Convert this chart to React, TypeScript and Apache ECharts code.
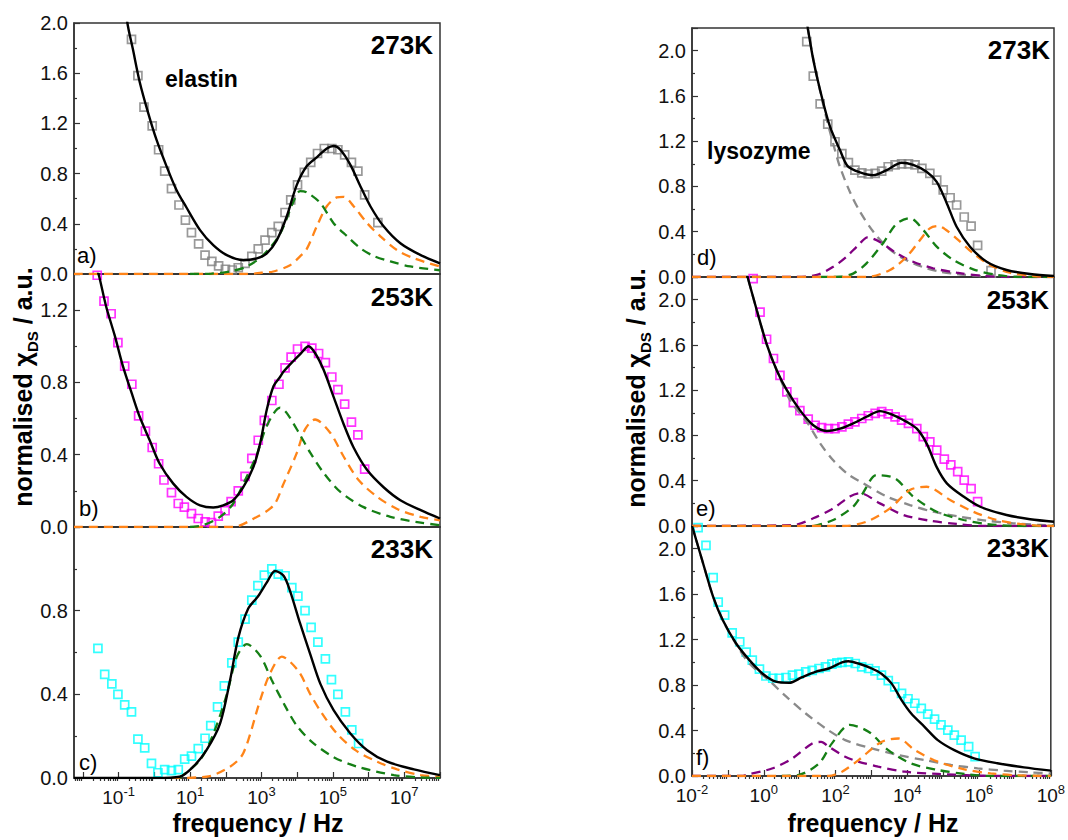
import React, { useEffect, useRef } from 'react';
import * as echarts from 'echarts';

// ---------- DATA (x = log10(frequency / Hz), y = normalised chi_DS) ----------
// elastin 273K (a)
const elastin273Data = [[-0.64,1.87],[-0.46,1.58],[-0.29,1.33],[-0.06,1.18],[0.12,0.99],[0.29,0.82],[0.48,0.68],[0.69,0.55],[0.87,0.43],[1.04,0.33],[1.24,0.24],[1.42,0.15],[1.61,0.10],[1.80,0.064],[1.99,0.038],[2.18,0.032],[2.35,0.05],[2.54,0.085],[2.73,0.14],[2.91,0.20],[3.10,0.27],[3.29,0.33],[3.47,0.38],[3.66,0.49],[3.82,0.59],[4.01,0.71],[4.20,0.81],[4.38,0.89],[4.57,0.96],[4.76,1.0],[4.97,1.0],[5.14,0.99],[5.33,0.95],[5.52,0.89],[5.70,0.82],[5.89,0.63],[6.26,0.41]];
const elastin273Fit = [[-0.85,2.3],[-0.76,2.01],[-0.60,1.79],[-0.41,1.53],[-0.18,1.29],[0.06,1.07],[0.34,0.86],[0.62,0.67],[0.90,0.53],[1.28,0.35],[1.65,0.23],[2.03,0.15],[2.49,0.11],[2.87,0.125],[3.15,0.165],[3.43,0.27],[3.71,0.46],[3.99,0.71],[4.27,0.86],[4.55,0.93],[4.83,1.0],[5.02,1.02],[5.21,0.99],[5.49,0.87],[5.77,0.70],[6.05,0.54],[6.42,0.38],[6.89,0.245],[7.46,0.15],[8.0,0.085]];
const elastin273Green = [[1.0,0],[1.6,0.003],[2.12,0.02],[2.59,0.06],[3.05,0.15],[3.52,0.32],[3.90,0.58],[4.08,0.66],[4.27,0.65],[4.65,0.565],[5.02,0.405],[5.40,0.30],[5.77,0.205],[6.14,0.144],[6.61,0.10],[7.17,0.06],[8.0,0.03]];
const elastin273Orange = [[-2.25,0],[2.6,0],[3.0,0.01],[3.33,0.02],[3.80,0.07],[4.08,0.14],[4.27,0.2],[4.55,0.38],[4.83,0.54],[5.11,0.61],[5.30,0.615],[5.58,0.54],[5.96,0.405],[6.33,0.30],[6.80,0.19],[7.27,0.125],[8.0,0.06]];

// elastin 253K (b)
const elastin253Data = [[-1.60,1.393],[-1.41,1.25],[-1.21,1.18],[-1.02,1.02],[-0.83,0.89],[-0.63,0.79],[-0.44,0.615],[-0.25,0.53],[-0.06,0.44],[0.12,0.35],[0.27,0.26],[0.48,0.19],[0.67,0.13],[0.84,0.11],[1.04,0.074],[1.23,0.047],[1.42,0.028],[1.60,0.024],[1.79,0.06],[1.98,0.09],[2.15,0.14],[2.35,0.20],[2.54,0.28],[2.73,0.38],[2.91,0.48],[3.08,0.59],[3.29,0.70],[3.49,0.79],[3.66,0.88],[3.83,0.94],[4.01,0.985],[4.22,1.0],[4.41,0.99],[4.60,0.96],[4.79,0.91],[4.97,0.83],[5.14,0.76],[5.33,0.68],[5.52,0.58],[5.70,0.51],[5.89,0.32]];
const elastin253Fit = [[-1.65,1.45],[-1.55,1.39],[-1.35,1.22],[-1.11,1.06],[-0.88,0.89],[-0.60,0.72],[-0.41,0.61],[-0.13,0.48],[0.15,0.35],[0.53,0.24],[0.90,0.167],[1.28,0.12],[1.65,0.108],[1.93,0.12],[2.21,0.148],[2.49,0.22],[2.77,0.33],[2.96,0.46],[3.15,0.65],[3.34,0.78],[3.52,0.83],[3.62,0.86],[3.90,0.92],[4.10,0.96],[4.32,1.0],[4.51,0.96],[4.74,0.87],[5.02,0.72],[5.30,0.57],[5.58,0.44],[5.96,0.315],[6.42,0.22],[6.89,0.148],[7.46,0.093],[8.0,0.047]];
const elastin253Green = [[1.0,0],[1.37,0.01],[1.84,0.056],[2.21,0.13],[2.59,0.28],[2.87,0.40],[3.15,0.56],[3.52,0.66],[3.71,0.63],[4.08,0.51],[4.37,0.41],[4.74,0.30],[5.21,0.194],[5.86,0.11],[6.61,0.056],[7.46,0.024],[8.0,0.01]];
const elastin253Orange = [[-2.25,0],[2.2,0],[2.77,0.045],[3.34,0.12],[3.62,0.24],[3.99,0.41],[4.22,0.54],[4.50,0.595],[4.93,0.52],[5.30,0.39],[5.72,0.26],[6.24,0.167],[6.80,0.10],[7.46,0.056],[8.0,0.037]];

// elastin 233K (c)
const elastin233Data = [[-1.58,0.62],[-1.39,0.495],[-1.19,0.45],[-1.02,0.40],[-0.83,0.35],[-0.64,0.316],[-0.46,0.186],[-0.27,0.144],[-0.08,0.07],[0.10,0.025],[0.29,0.04],[0.48,0.035],[0.67,0.04],[0.85,0.09],[1.04,0.105],[1.23,0.14],[1.42,0.19],[1.58,0.25],[1.77,0.34],[1.96,0.44],[2.17,0.55],[2.35,0.65],[2.54,0.76],[2.73,0.85],[2.90,0.92],[3.08,0.97],[3.29,1.0],[3.47,0.975],[3.66,0.967],[3.85,0.91],[4.02,0.87],[4.22,0.80],[4.39,0.72],[4.58,0.65],[4.79,0.57],[4.96,0.47],[5.14,0.40],[5.35,0.316],[5.53,0.23],[5.72,0.165]];
const elastin233Fit = [[-2.25,0],[0.06,0],[0.71,0.006],[1.09,0.054],[1.46,0.133],[1.84,0.26],[2.12,0.467],[2.35,0.67],[2.63,0.81],[2.91,0.87],[3.15,0.935],[3.38,0.99],[3.62,0.967],[3.80,0.895],[4.08,0.74],[4.37,0.59],[4.65,0.45],[5.02,0.324],[5.49,0.213],[5.96,0.133],[6.52,0.078],[7.27,0.041],[8.0,0.014]];
const elastin233Green = [[0.7,0],[1.28,0.086],[1.65,0.21],[2.03,0.40],[2.31,0.58],[2.59,0.64],[2.96,0.585],[3.29,0.467],[3.66,0.345],[3.99,0.25],[4.41,0.173],[5.02,0.10],[5.68,0.054],[6.71,0.014],[7.46,0.003],[8.0,0]];
const elastin233Orange = [[0.5,0],[1.46,0.006],[2.12,0.054],[2.49,0.118],[2.96,0.37],[3.24,0.50],[3.57,0.58],[4.04,0.51],[4.37,0.40],[4.69,0.31],[5.11,0.213],[5.63,0.133],[6.24,0.078],[6.80,0.041],[7.46,0.014],[8.0,0.006]];

// lysozyme 273K (d)
const lyso273Data = [[1.17,2.08],[1.35,1.775],[1.54,1.53],[1.75,1.35],[1.95,1.195],[2.14,1.09],[2.32,1.01],[2.50,0.945],[2.69,0.92],[2.87,0.91],[3.06,0.915],[3.24,0.936],[3.42,0.974],[3.61,0.99],[3.79,1.0],[3.98,1.0],[4.16,0.99],[4.35,0.96],[4.57,0.915],[4.76,0.856],[4.94,0.77],[5.13,0.70],[5.31,0.636],[5.52,0.53],[5.71,0.45],[5.89,0.28],[6.26,0.056]];
const lyso273Fit = [[1.12,2.35],[1.20,2.196],[1.35,1.92],[1.54,1.65],[1.81,1.33],[2.09,1.12],[2.30,0.98],[2.64,0.925],[3.01,0.90],[3.38,0.945],[3.79,1.01],[4.11,0.99],[4.48,0.93],[4.76,0.84],[5.04,0.65],[5.31,0.444],[5.68,0.268],[6.14,0.135],[6.69,0.062],[7.34,0.026],[8.0,0.009]];
const lyso273Gray = [[1.12,2.35],[1.20,2.19],[1.40,1.85],[1.70,1.42],[1.95,1.12],[2.09,0.97],[2.36,0.753],[2.64,0.577],[3.01,0.40],[3.38,0.268],[3.75,0.179],[4.11,0.121],[4.48,0.077],[4.85,0.047],[5.31,0.026],[5.96,0.009],[6.5,0]];
const lyso273Purple = [[-2,0],[0.8,0],[1.45,0.018],[1.90,0.09],[2.27,0.18],[2.59,0.28],[2.85,0.35],[3.19,0.31],[3.65,0.21],[4.11,0.135],[4.66,0.077],[5.31,0.038],[6.05,0.009],[6.69,0],[8,0]];
const lyso273Green = [[1.5,0],[2.09,0.003],[2.45,0.03],[2.82,0.12],[3.28,0.30],[3.65,0.47],[4.02,0.52],[4.39,0.415],[4.76,0.268],[5.22,0.15],[5.77,0.068],[6.42,0.018],[7.08,0],[8,0]];
const lyso273Orange = [[-2,0],[2.82,0],[3.47,0.062],[3.93,0.179],[4.30,0.327],[4.57,0.43],[4.80,0.45],[5.00,0.42],[5.31,0.34],[5.77,0.209],[6.23,0.106],[6.78,0.038],[7.43,0.009],[8.0,0]];

// lysozyme 253K (e)
const lyso253Data = [[-0.31,2.186],[-0.12,1.89],[0.06,1.65],[0.25,1.48],[0.43,1.33],[0.62,1.185],[0.80,1.09],[0.98,1.02],[1.21,0.944],[1.40,0.89],[1.58,0.87],[1.77,0.86],[1.95,0.86],[2.14,0.876],[2.32,0.90],[2.50,0.92],[2.69,0.95],[2.87,0.974],[3.06,0.995],[3.24,1.01],[3.42,0.99],[3.61,0.965],[3.79,0.936],[3.98,0.906],[4.21,0.86],[4.39,0.79],[4.57,0.744],[4.76,0.67],[4.97,0.59],[5.15,0.54],[5.34,0.48],[5.52,0.406],[5.71,0.33],[5.89,0.215]];
const lyso253Fit = [[-0.55,2.3],[-0.49,2.23],[-0.21,1.906],[0.06,1.61],[0.34,1.377],[0.62,1.20],[0.98,1.024],[1.35,0.89],[1.72,0.84],[2.09,0.86],[2.45,0.906],[2.82,0.965],[3.19,1.015],[3.56,0.98],[3.93,0.92],[4.21,0.86],[4.48,0.73],[4.76,0.52],[5.04,0.377],[5.50,0.26],[5.96,0.17],[6.69,0.097],[7.34,0.06],[8.0,0.038]];
const lyso253Gray = [[-0.55,2.3],[-0.49,2.23],[-0.21,1.906],[0.06,1.61],[0.34,1.377],[0.71,1.11],[1.17,0.92],[1.54,0.73],[1.90,0.58],[2.30,0.46],[2.73,0.377],[3.38,0.26],[4.02,0.185],[4.66,0.126],[5.40,0.082],[6.14,0.047],[6.88,0.024],[7.61,0.009],[8.0,0.005]];
const lyso253Purple = [[-2,0],[0.8,0.009],[1.35,0.068],[1.90,0.156],[2.36,0.26],[2.64,0.29],[3.19,0.20],[3.84,0.097],[4.57,0.047],[5.31,0.018],[6.05,0],[8,0]];
const lyso253Green = [[1.35,0],[1.90,0.053],[2.45,0.17],[2.70,0.28],[3.10,0.45],[3.61,0.42],[4.11,0.26],[4.76,0.126],[5.50,0.053],[6.14,0.018],[7.0,0],[8,0]];
const lyso253Orange = [[-2,0],[2.2,0],[2.82,0.038],[3.47,0.156],[4.02,0.318],[4.48,0.347],[5.13,0.23],[5.77,0.126],[6.42,0.053],[7.06,0.018],[7.80,0],[8,0]];

// lysozyme 233K (f)
const lyso233Data = [[-1.83,2.185],[-1.61,2.03],[-1.41,1.746],[-1.27,1.53],[-1.09,1.415],[-0.88,1.26],[-0.67,1.18],[-0.49,1.09],[-0.32,1.02],[-0.12,0.94],[0.06,0.88],[0.25,0.86],[0.43,0.86],[0.62,0.867],[0.80,0.887],[0.98,0.896],[1.17,0.917],[1.35,0.93],[1.54,0.946],[1.72,0.96],[1.90,0.984],[2.04,0.995],[2.18,1.0],[2.36,1.004],[2.55,0.99],[2.73,0.96],[2.92,0.946],[3.10,0.925],[3.28,0.887],[3.47,0.84],[3.65,0.785],[3.84,0.727],[4.02,0.68],[4.21,0.64],[4.39,0.595],[4.57,0.545],[4.76,0.50],[4.94,0.45],[5.13,0.404],[5.31,0.36],[5.50,0.316],[5.71,0.258],[5.89,0.17]];
const lyso233Fit = [[-2,2.2],[-1.96,2.16],[-1.69,1.87],[-1.41,1.576],[-1.14,1.37],[-0.77,1.166],[-0.40,1.02],[-0.03,0.90],[0.34,0.83],[0.71,0.82],[1.07,0.87],[1.44,0.917],[1.81,0.946],[2.18,1.0],[2.36,1.01],[2.64,0.99],[3.01,0.946],[3.28,0.90],[3.56,0.815],[3.84,0.668],[4.11,0.55],[4.48,0.433],[4.85,0.316],[5.31,0.228],[5.86,0.156],[6.51,0.112],[7.25,0.076],[8.0,0.047]];
const lyso233Gray = [[-2,2.2],[-1.96,2.16],[-1.69,1.87],[-1.41,1.576],[-1.14,1.37],[-0.77,1.16],[-0.40,0.99],[0.15,0.84],[0.62,0.70],[1.17,0.55],[1.72,0.42],[2.27,0.316],[3.01,0.243],[3.75,0.185],[4.48,0.14],[5.22,0.097],[5.96,0.068],[6.69,0.047],[7.43,0.032],[8.0,0.023]];
const lyso233Purple = [[-2,0],[-0.6,0],[-0.49,0.009],[0.25,0.068],[0.80,0.156],[1.35,0.287],[1.60,0.30],[1.81,0.258],[2.27,0.17],[2.60,0.13],[3.19,0.082],[3.93,0.038],[4.85,0.018],[5.77,0.006],[6.5,0],[8,0]];
const lyso233Green = [[0.5,0],[0.98,0.01],[1.54,0.11],[1.90,0.287],[2.40,0.45],[2.92,0.39],[3.47,0.228],[4.11,0.11],[4.85,0.053],[5.59,0.018],[6.3,0],[8,0]];
const lyso233Orange = [[-2,0],[1.8,0],[2.18,0.038],[2.64,0.14],[3.28,0.30],[3.75,0.33],[4.21,0.228],[4.85,0.126],[5.59,0.059],[6.32,0.023],[7.06,0.006],[8.0,0]];

// ---------- axes / labels ----------
const leftDecades = [-2, -1, 0, 1, 2, 3, 4, 5, 6, 7, 8];
const leftLabelDecades = [-1, 1, 3, 5, 7];
const rightDecades = [-2, -1, 0, 1, 2, 3, 4, 5, 6, 7, 8];
const rightLabelDecades = [-2, 0, 2, 4, 6, 8];
const panelYMax = [2.0, 1.4, 1.2, 2.2, 2.2, 2.2];
const panelLetters = ['a)', 'b)', 'c)', 'd)', 'e)', 'f)'];
const panelTemps = ['273K', '253K', '233K', '273K', '253K', '233K'];

const FONT = "'Liberation Sans', Arial, Helvetica, sans-serif";
const C_GRAY = '#808080';
const C_MAG = '#ff00ff';
const C_CYAN = '#00ffff';
const C_GREEN = '#157f15';
const C_ORANGE = '#ff8418';
const C_PURPLE = '#800080';
const C_GRAYD = '#8a8a8a';

function minorTicks(lo: number, hi: number) {
  const out: number[] = [];
  for (let n = -3; n <= 8; n++) {
    for (let k = 2; k <= 9; k++) {
      const v = Math.log10(k) + n;
      if (v > lo && v < hi) out.push(v);
    }
  }
  return out;
}

function buildOption() {
  const grids = [
    { left: 74, top: 23, width: 366, height: 251 },
    { left: 74, top: 274, width: 366, height: 253 },
    { left: 74, top: 527, width: 366, height: 251 },
    { left: 692, top: 28, width: 362, height: 249 },
    { left: 692, top: 277, width: 362, height: 249 },
    { left: 692, top: 526, width: 362, height: 250 },
  ].map((g) => ({ ...g, show: true, borderColor: '#333', borderWidth: 1.5, backgroundColor: 'transparent' }));

  const axisLine = { show: true, onZero: false, lineStyle: { color: '#333', width: 1.5 } };
  const tickLine = { color: '#333', width: 1.2 };
  const rich = {
    b: { fontSize: 19, fontFamily: FONT, color: '#111', lineHeight: 22, verticalAlign: 'bottom' },
    s: { fontSize: 13, fontFamily: FONT, color: '#111', lineHeight: 13, verticalAlign: 'top' },
  };

  const xAxes: any[] = [];
  for (let i = 0; i < 6; i++) {
    const isLeft = i < 3;
    const bottom = i === 2 || i === 5;
    xAxes.push({
      type: 'value',
      gridIndex: i,
      min: isLeft ? -2.25 : -2,
      max: 8,
      axisLine,
      splitLine: { show: false },
      axisTick: bottom
        ? { show: true, inside: true, length: 6, lineStyle: tickLine, customValues: isLeft ? leftDecades : rightDecades }
        : { show: false },
      axisLabel: bottom
        ? {
            show: true,
            margin: 7,
            customValues: isLeft ? leftLabelDecades : rightLabelDecades,
            formatter: (v: number) => '{b|10}{s|' + Math.round(v) + '}',
            rich,
          }
        : { show: false },
    });
  }
  // minor log ticks for bottom panels
  [2, 5].forEach((gi) => {
    const lo = gi === 2 ? -2.25 : -2;
    xAxes.push({
      type: 'value',
      gridIndex: gi,
      min: lo,
      max: 8,
      axisLine: { show: false },
      splitLine: { show: false },
      axisLabel: { show: false },
      axisTick: { show: true, inside: true, length: 3, lineStyle: tickLine, customValues: minorTicks(lo, 8) },
    });
  });

  const yAxes = panelYMax.map((mx, i) => ({
    type: 'value',
    gridIndex: i,
    min: 0,
    max: mx,
    interval: 0.4,
    axisLine,
    splitLine: { show: false },
    axisTick: { show: true, inside: true, length: 6, lineStyle: tickLine },
    minorTick: { show: true, splitNumber: 2, length: 3, lineStyle: tickLine },
    axisLabel: {
      show: true,
      margin: 6,
      fontSize: 20,
      fontFamily: FONT,
      color: '#111',
      showMaxLabel: i === 0,
      formatter: (v: number) => v.toFixed(1),
    },
  }));

  const scatter = (idx: number, data: number[][], color: string) => ({
    type: 'scatter',
    xAxisIndex: idx,
    yAxisIndex: idx,
    data,
    symbol: 'rect',
    symbolSize: 8,
    clip: true,
    silent: true,
    itemStyle: { color: 'rgba(255,255,255,0)', borderColor: color, borderWidth: 1.7 },
    z: 2,
  });
  const line = (idx: number, data: number[][], color: string, dashed: boolean) => ({
    type: 'line',
    xAxisIndex: idx,
    yAxisIndex: idx,
    data,
    showSymbol: false,
    symbol: 'none',
    smooth: 0.3,
    clip: true,
    silent: true,
    lineStyle: { color, width: dashed ? 2.3 : 2.4, type: dashed ? [9, 6] : 'solid', dashOffset: 0 },
    z: dashed ? 3 : 4,
  });

  const series = [
    // a
    scatter(0, elastin273Data, C_GRAY),
    line(0, elastin273Orange, C_ORANGE, true),
    line(0, elastin273Green, C_GREEN, true),
    line(0, elastin273Fit, '#000', false),
    // b
    scatter(1, elastin253Data, C_MAG),
    line(1, elastin253Orange, C_ORANGE, true),
    line(1, elastin253Green, C_GREEN, true),
    line(1, elastin253Fit, '#000', false),
    // c
    scatter(2, elastin233Data, C_CYAN),
    line(2, elastin233Orange, C_ORANGE, true),
    line(2, elastin233Green, C_GREEN, true),
    line(2, elastin233Fit, '#000', false),
    // d
    scatter(3, lyso273Data, C_GRAY),
    line(3, lyso273Gray, C_GRAYD, true),
    line(3, lyso273Purple, C_PURPLE, true),
    line(3, lyso273Green, C_GREEN, true),
    line(3, lyso273Orange, C_ORANGE, true),
    line(3, lyso273Fit, '#000', false),
    // e
    scatter(4, lyso253Data, C_MAG),
    line(4, lyso253Gray, C_GRAYD, true),
    line(4, lyso253Purple, C_PURPLE, true),
    line(4, lyso253Green, C_GREEN, true),
    line(4, lyso253Orange, C_ORANGE, true),
    line(4, lyso253Fit, '#000', false),
    // f
    scatter(5, lyso233Data, C_CYAN),
    line(5, lyso233Gray, C_GRAYD, true),
    line(5, lyso233Purple, C_PURPLE, true),
    line(5, lyso233Green, C_GREEN, true),
    line(5, lyso233Orange, C_ORANGE, true),
    line(5, lyso233Fit, '#000', false),
  ];

  const tempPos = [
    [433, 45], [433, 297], [433, 549],
    [1050, 50], [1049, 300], [1049, 548],
  ];
  const letterPos = [
    [77, 255], [79, 508], [79, 762],
    [697, 257], [696, 508], [696, 757],
  ];
  const graphics: any[] = [];
  tempPos.forEach((p, i) => {
    graphics.push({
      type: 'text', x: p[0], y: p[1], z: 10,
      style: { text: panelTemps[i], fontSize: 26, fontWeight: 'bold', fontFamily: FONT, fill: '#000', align: 'right', verticalAlign: 'middle' },
    });
  });
  letterPos.forEach((p, i) => {
    graphics.push({
      type: 'text', x: p[0], y: p[1], z: 10,
      style: { text: panelLetters[i], fontSize: 22, fontFamily: FONT, fill: '#000', align: 'left', verticalAlign: 'middle' },
    });
  });
  graphics.push({
    type: 'text', x: 165, y: 79, z: 10,
    style: { text: 'elastin', fontSize: 23, fontWeight: 'bold', fontFamily: FONT, fill: '#000', align: 'left', verticalAlign: 'middle' },
  });
  graphics.push({
    type: 'text', x: 707, y: 151, z: 10,
    style: { text: 'lysozyme', fontSize: 23, fontWeight: 'bold', fontFamily: FONT, fill: '#000', align: 'left', verticalAlign: 'middle' },
  });
  [[258, 823], [873, 823]].forEach((p) => {
    graphics.push({
      type: 'text', x: p[0], y: p[1], z: 10,
      style: { text: 'frequency / Hz', fontSize: 25, fontWeight: 'bold', fontFamily: FONT, fill: '#000', align: 'center', verticalAlign: 'middle' },
    });
  });
  const yRich = {
    t: { fontSize: 25, fontWeight: 'bold', fontFamily: FONT, fill: '#000', lineHeight: 30, verticalAlign: 'top' },
    sub: { fontSize: 15, fontWeight: 'bold', fontFamily: FONT, fill: '#000', lineHeight: 15, verticalAlign: 'bottom' },
  };
  [[25, 387], [638, 388]].forEach((p) => {
    graphics.push({
      type: 'text', x: p[0], y: p[1], rotation: Math.PI / 2, z: 10,
      style: {
        text: '{t|normalised χ}{sub|DS}{t| / a.u.}',
        rich: yRich,
        align: 'center',
        verticalAlign: 'middle',
      },
    });
  });

  return {
    animation: false,
    backgroundColor: '#ffffff',
    textStyle: { fontFamily: FONT },
    grid: grids,
    xAxis: xAxes,
    yAxis: yAxes,
    series,
    graphic: graphics,
  };
}

export default function App() {
  const ref = useRef<HTMLDivElement>(null);
  useEffect(() => {
    document.body.style.margin = '0';
    const chart = echarts.init(ref.current as HTMLDivElement, null, { renderer: 'svg' });
    chart.setOption(buildOption() as any);
    return () => chart.dispose();
  }, []);
  return <div ref={ref} style={{ width: 1068, height: 840 }} />;
}
